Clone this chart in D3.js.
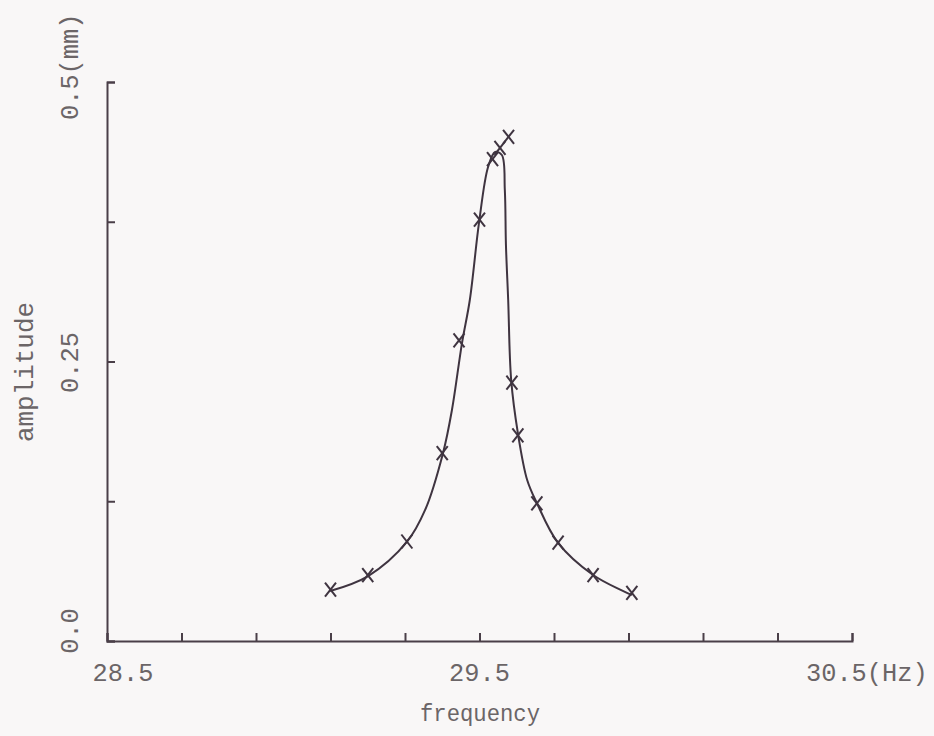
<!DOCTYPE html>
<html>
<head>
<meta charset="utf-8">
<script src="https://cdn.jsdelivr.net/npm/d3@7/dist/d3.min.js"></script>
<style>
  html, body { margin: 0; padding: 0; background: #f9f7f7; }
  svg { display: block; }
  .axis path, .axis line { stroke: #4a3f48; stroke-width: 2; }
  .lbl { font-family: "Liberation Mono", monospace; fill: #6b6567; }
</style>
</head>
<body>
<div id="chart"></div>
<script>
// Measured points (x marks)
var markFreq = [29.10, 29.20, 29.305, 29.40, 29.445, 29.50, 29.535, 29.555, 29.578, 29.587, 29.603, 29.654, 29.711, 29.805, 29.909];
var markAmp  = [0.046, 0.059, 0.089, 0.168, 0.269, 0.377, 0.431, 0.441, 0.451, 0.231, 0.184, 0.123, 0.088, 0.059, 0.043];

// Hand-drawn fitted curve
var curveFreq = [29.099, 29.201, 29.305, 29.354, 29.402, 29.426, 29.453, 29.474, 29.499, 29.523, 29.542, 29.560, 29.568, 29.571, 29.577, 29.585, 29.603, 29.628, 29.654, 29.711, 29.805, 29.909];
var curveAmp  = [0.0447, 0.0581, 0.0886, 0.1172, 0.168, 0.2066, 0.2665, 0.305, 0.3748, 0.424, 0.4374, 0.4347, 0.4034, 0.3542, 0.305, 0.2335, 0.186, 0.144, 0.1234, 0.0877, 0.059, 0.0411];

// Axis ticks and labels
var xTicks = [28.5, 28.7, 28.9, 29.1, 29.3, 29.5, 29.7, 29.9, 30.1, 30.3, 30.5];
var xLabels = ["28.5", "29.5", "30.5(Hz)"];
var xLabelValues = [28.5, 29.5, 30.5];
var yTicks = [0, 0.125, 0.25, 0.375, 0.5];
var yLabels = ["0.0", "0.25", "0.5(mm)"];
var yLabelValues = [0, 0.25, 0.5];

var width = 934, height = 736;
var margins = { top: 82, right: 82, bottom: 95, left: 107 };
var charW = 15.2; // typewriter glyphs are narrow and tall

var svg = d3.select("#chart").append("svg")
  .attr("width", width)
  .attr("height", height);

var xScale = d3.scaleLinear().domain([28.5, 30.5]).range([margins.left, width - margins.right]);
var yScale = d3.scaleLinear().domain([0, 0.5]).range([height - margins.bottom, margins.top]);

// x axis, ticks pointing up
svg.append("g")
  .attr("class", "x axis")
  .attr("transform", "translate(0," + yScale(0) + ")")
  .call(d3.axisTop(xScale).tickValues(xTicks).tickSize(8).tickSizeOuter(8).tickFormat(""));

// y axis, ticks pointing right
svg.append("g")
  .attr("class", "y axis")
  .attr("transform", "translate(" + xScale(28.5) + ",0)")
  .call(d3.axisRight(yScale).tickValues(yTicks).tickSize(8).tickSizeOuter(8).tickFormat(""));

svg.selectAll(".axis text").remove();

// x labels
var xDx = [16, 0, -46];
svg.append("g")
  .selectAll("text")
  .data(xLabels)
  .enter()
  .append("text")
  .attr("class", "lbl")
  .attr("x", (d, i) => xScale(xLabelValues[i]) + xDx[i])
  .attr("y", yScale(0) + 40)
  .attr("text-anchor", (d, i) => i == 2 ? "start" : "middle")
  .attr("textLength", d => d.length * charW)
  .attr("lengthAdjust", "spacingAndGlyphs")
  .style("font-size", "26px")
  .text(d => d);

// y labels (rotated)
var yDy = [-10, 1, 38];
svg.append("g")
  .selectAll("text")
  .data(yLabels)
  .enter()
  .append("text")
  .attr("class", "lbl")
  .attr("transform", (d, i) => "translate(78," + (yScale(yLabelValues[i]) + yDy[i]) + ") rotate(-90)")
  .attr("text-anchor", (d, i) => i == 2 ? "start" : "middle")
  .attr("textLength", d => d.length * charW)
  .attr("lengthAdjust", "spacingAndGlyphs")
  .style("font-size", "26px")
  .text(d => d);

// axis titles
svg.append("text")
  .attr("class", "lbl")
  .attr("x", 480)
  .attr("y", 721)
  .attr("text-anchor", "middle")
  .attr("textLength", 120)
  .attr("lengthAdjust", "spacingAndGlyphs")
  .style("font-size", "24px")
  .text("frequency");

svg.append("text")
  .attr("class", "lbl")
  .attr("transform", "translate(33,372) rotate(-90)")
  .attr("text-anchor", "middle")
  .attr("textLength", 140)
  .attr("lengthAdjust", "spacingAndGlyphs")
  .style("font-size", "26px")
  .text("amplitude");

// fitted curve
var line = d3.line()
  .x(d => xScale(d[0]))
  .y(d => yScale(d[1]))
  .curve(d3.curveCatmullRom.alpha(0.5));

svg.append("path")
  .datum(curveFreq.map((f, i) => [f, curveAmp[i]]))
  .attr("d", line)
  .attr("fill", "none")
  .attr("stroke", "#3f3440")
  .attr("stroke-width", 2);

// x marks
var r = 5.5;
var marks = svg.append("g")
  .attr("stroke", "#3f3440")
  .attr("stroke-width", 2)
  .selectAll("g")
  .data(markFreq.map((f, i) => [f, markAmp[i]]))
  .enter()
  .append("g")
  .attr("transform", d => "translate(" + xScale(d[0]) + "," + yScale(d[1]) + ")");

marks.append("line").attr("x1", -r).attr("y1", -r - 1.5).attr("x2", r).attr("y2", r + 1.5);
marks.append("line").attr("x1", r).attr("y1", -r - 1.5).attr("x2", -r).attr("y2", r + 1.5);
</script>
</body>
</html>
